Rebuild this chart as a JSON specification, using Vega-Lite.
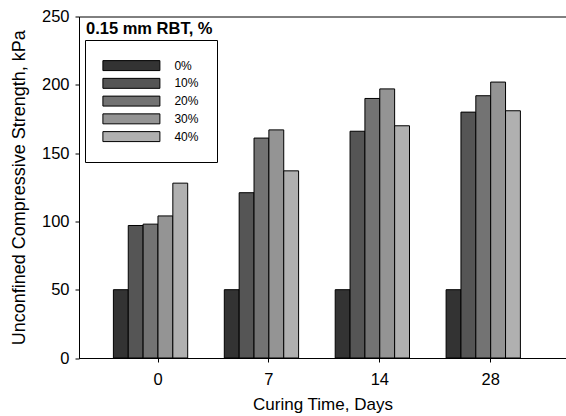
{
  "$schema": "https://vega.github.io/schema/vega-lite/v6.json",
  "width": 487,
  "height": 341.5,
  "autosize": "none",
  "padding": {"left": 79, "top": 16.5, "right": 0, "bottom": 58},
  "background": "white",
  "config": {
    "font": "Liberation Sans",
    "view": {"stroke": "black", "strokeWidth": 1}
  },
  "title": {
    "text": "0.15 mm RBT, %",
    "anchor": "start",
    "frame": "group",
    "orient": "none",
    "offset": 0,
    "baseline": "alphabetic",
    "dx": 7,
    "dy": 17,
    "fontSize": 16.5,
    "fontWeight": "bold",
    "font": "Liberation Sans",
    "color": "black"
  },
  "data": {
    "values": [
      {"day": "0", "rbt": "0%", "ucs": 50},
      {"day": "0", "rbt": "10%", "ucs": 97},
      {"day": "0", "rbt": "20%", "ucs": 98},
      {"day": "0", "rbt": "30%", "ucs": 104},
      {"day": "0", "rbt": "40%", "ucs": 128},
      {"day": "7", "rbt": "0%", "ucs": 50},
      {"day": "7", "rbt": "10%", "ucs": 121},
      {"day": "7", "rbt": "20%", "ucs": 161},
      {"day": "7", "rbt": "30%", "ucs": 167},
      {"day": "7", "rbt": "40%", "ucs": 137},
      {"day": "14", "rbt": "0%", "ucs": 50},
      {"day": "14", "rbt": "10%", "ucs": 166},
      {"day": "14", "rbt": "20%", "ucs": 190},
      {"day": "14", "rbt": "30%", "ucs": 197},
      {"day": "14", "rbt": "40%", "ucs": 170},
      {"day": "28", "rbt": "0%", "ucs": 50},
      {"day": "28", "rbt": "10%", "ucs": 180},
      {"day": "28", "rbt": "20%", "ucs": 192},
      {"day": "28", "rbt": "30%", "ucs": 202},
      {"day": "28", "rbt": "40%", "ucs": 181}
    ]
  },
  "mark": {"type": "bar", "stroke": "black", "strokeWidth": 1},
  "encoding": {
    "x": {
      "field": "day",
      "type": "ordinal",
      "sort": ["0", "7", "14", "28"],
      "scale": {"paddingInner": 0.33, "paddingOuter": 0.3607, "align": 0.43},
      "axis": {
        "title": "Curing Time, Days",
        "labelAngle": 0,
        "labelFontSize": 16.5,
        "titleFontSize": 17,
        "titleFontWeight": "normal",
        "labelColor": "black",
        "titleColor": "black",
        "domainColor": "black",
        "tickColor": "black",
        "ticks": true,
        "tickSize": 4,
        "tickOffset": 7,
        "labelOffset": 0,
        "labelPadding": 9,
        "titlePadding": 9
      }
    },
    "xOffset": {
      "field": "rbt",
      "type": "nominal",
      "sort": ["0%", "10%", "20%", "30%", "40%"],
      "scale": {"paddingInner": 0, "paddingOuter": 0}
    },
    "y": {
      "field": "ucs",
      "type": "quantitative",
      "scale": {"domain": [0, 250], "nice": false},
      "axis": {
        "title": "Unconfined Compressive Strength, kPa",
        "values": [0, 50, 100, 150, 200, 250],
        "grid": false,
        "tickSize": 4,
        "tickColor": "black",
        "domainColor": "black",
        "labelFontSize": 16.5,
        "titleFontSize": 18,
        "titleFontWeight": "normal",
        "labelColor": "black",
        "titleColor": "black",
        "labelPadding": 6,
        "titlePadding": 13
      }
    },
    "color": {
      "field": "rbt",
      "type": "nominal",
      "sort": ["0%", "10%", "20%", "30%", "40%"],
      "scale": {
        "domain": ["0%", "10%", "20%", "30%", "40%"],
        "range": ["#333333", "#555555", "#737373", "#949494", "#b0b0b0"]
      },
      "legend": {
        "title": null,
        "orient": "none",
        "legendX": 6,
        "legendY": 23.5,
        "fillColor": "white",
        "strokeColor": "black",
        "padding": 17.6,
        "symbolType": "M-4,-0.7L4,-0.7L4,0.7L-4,0.7Z",
        "symbolSize": 203,
        "symbolStrokeColor": "black",
        "symbolStrokeWidth": 1,
        "symbolOpacity": 1,
        "symbolOffset": 20.8,
        "labelOffset": 35,
        "rowPadding": 2.75,
        "labelFontSize": 12,
        "labelColor": "black"
      }
    }
  }
}
